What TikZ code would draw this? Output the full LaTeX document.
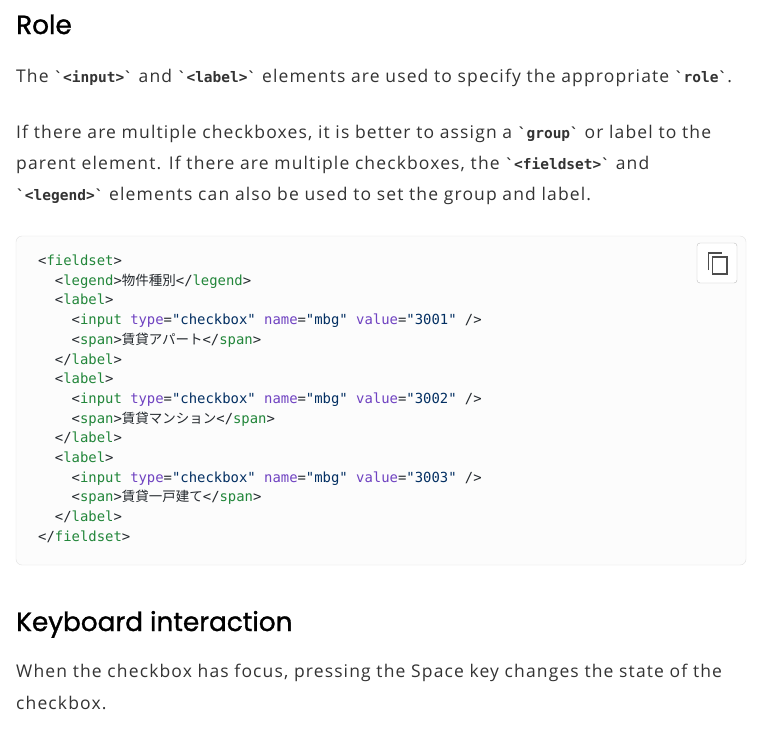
\documentclass[tikz,border=0pt]{standalone}
\usepackage{fontspec}
\setmainfont{Open Sans}[LetterSpace=6.5]
\newfontfamily\headf{Poppins}[FakeBold=1.2]
\newfontfamily\codef{DejaVu Sans Mono}
\newfontfamily\cjk{Noto Sans CJK JP}
\definecolor{txt}{HTML}{333333}
\definecolor{tagc}{HTML}{22863A}
\definecolor{attc}{HTML}{6F42C1}
\definecolor{strc}{HTML}{032F62}
\definecolor{punc}{HTML}{24292E}
\newcommand{\tg}[1]{\textcolor{tagc}{#1}}
\newcommand{\at}[1]{\textcolor{attc}{#1}}
\newcommand{\st}[1]{\textcolor{strc}{#1}}
\newcommand{\jp}[1]{{\cjk\fontsize{13.5}{14}\selectfont #1}}
\newcommand{\ic}[1]{{\codef\bfseries\fontsize{14.5}{16}\selectfont `#1`}}
\tikzset{
  body/.style={anchor=base west, inner sep=0, text=txt, font=\fontsize{17.5}{20}\selectfont},
  head/.style={anchor=base west, inner sep=0, text=black, font=\headf\fontsize{26.3}{28}\selectfont},
  code/.style={anchor=base west, inner sep=0, text=punc, font=\codef\fontsize{13.9}{16}\selectfont},
}
\begin{document}
\begin{tikzpicture}[x=1pt,y=-1pt]
\useasboundingbox[fill=white] (0,0) rectangle (768,742);
\node[head] (h1) at (16,34) {Role};
\node[body] (p1) at (16,82) {The \ic{<input>} and \ic{<label>} elements are used to specify the appropriate \ic{role}.};
\node[body] (p2) at (16,138) {If there are multiple checkboxes, it is better to assign a \ic{group} or label to the};
\node[body] (p3) at (16,169) {parent element. If there are multiple checkboxes, the \ic{<fieldset>} and};
\node[body] (p4) at (16,200) {\ic{<legend>} elements can also be used to set the group and label.};
\draw[draw=black!12, fill=black!1, rounded corners=6] (16,236) rectangle (746,565);
\node[draw=black!25, rounded corners=3, minimum width=40, minimum height=40, fill=white] (copy) at (717,263) {};
\draw[black!70, line width=1.3] (708.5,270) -- (708.5,253) -- (722,253);
\draw[black!70, line width=1.3] (712.5,257) rectangle (727,274);
\foreach \i/\t in {
0/{<\tg{fieldset}>},
1/{\ \ <\tg{legend}>\jp{物件種別}</\tg{legend}>},
2/{\ \ <\tg{label}>},
3/{\ \ \ \ <\tg{input} \at{type}=\st{"checkbox"} \at{name}=\st{"mbg"} \at{value}=\st{"3001"} />},
4/{\ \ \ \ <\tg{span}>\jp{賃貸アパート}</\tg{span}>},
5/{\ \ </\tg{label}>},
6/{\ \ <\tg{label}>},
7/{\ \ \ \ <\tg{input} \at{type}=\st{"checkbox"} \at{name}=\st{"mbg"} \at{value}=\st{"3002"} />},
8/{\ \ \ \ <\tg{span}>\jp{賃貸マンション}</\tg{span}>},
9/{\ \ </\tg{label}>},
10/{\ \ <\tg{label}>},
11/{\ \ \ \ <\tg{input} \at{type}=\st{"checkbox"} \at{name}=\st{"mbg"} \at{value}=\st{"3003"} />},
12/{\ \ \ \ <\tg{span}>\jp{賃貸一戸建て}</\tg{span}>},
13/{\ \ </\tg{label}>},
14/{</\tg{fieldset}>}}
  \node[code] (c\i) at (38,{265.5+19.7*\i}) {\t};
\node[head] (h2) at (16,631) {Keyboard interaction};
\node[body] (k1) at (16,677) {When the checkbox has focus, pressing the Space key changes the state of the};
\node[body] (k2) at (16,709) {checkbox.};
\end{tikzpicture}
\end{document}
